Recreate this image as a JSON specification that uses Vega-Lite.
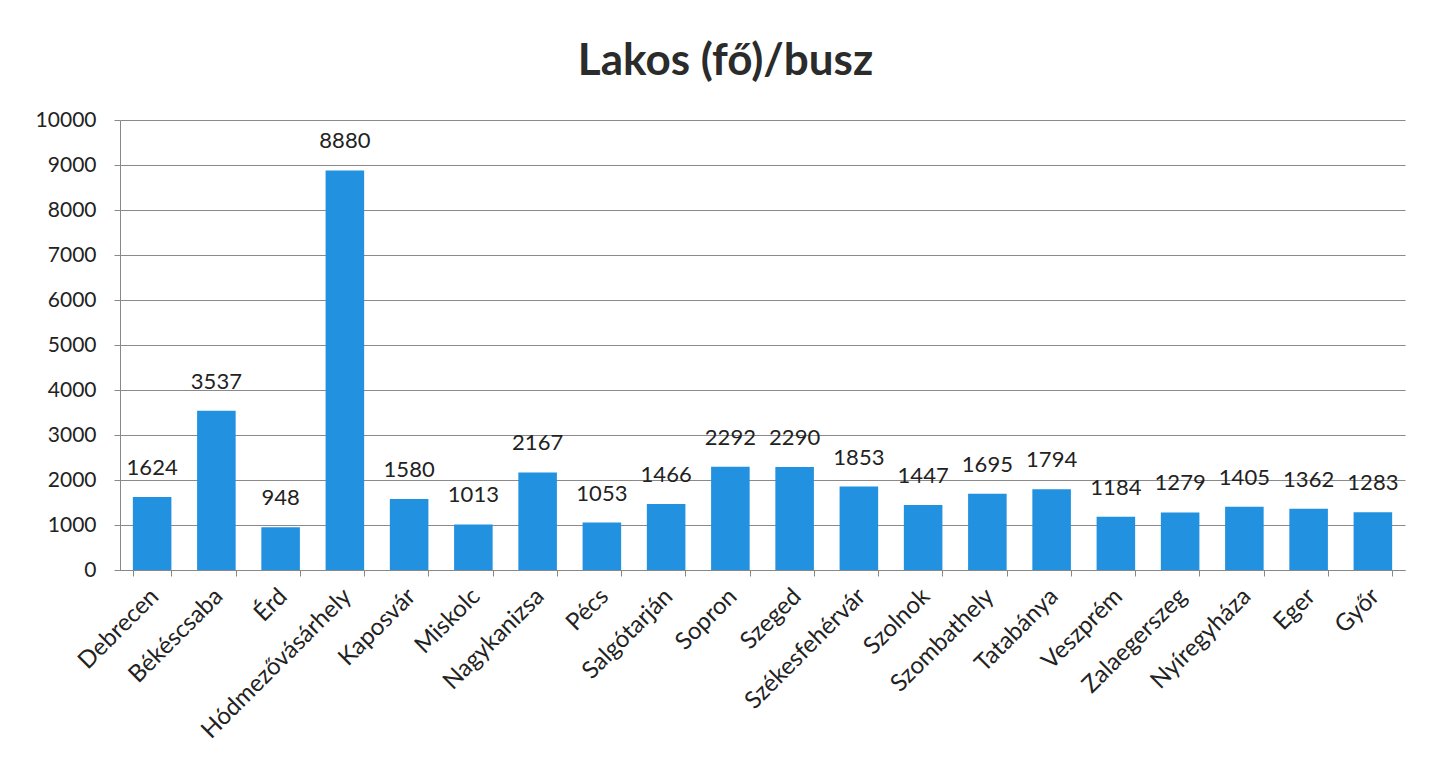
{
  "$schema": "https://vega.github.io/schema/vega-lite/v6.json",
  "autosize": "none",
  "width": 1285,
  "height": 450,
  "padding": {"left": 120, "top": 120, "right": 31, "bottom": 201},
  "background": "white",
  "title": {
    "text": "Lakos (fő)/busz",
    "font": "Lato",
    "fontSize": 44,
    "fontWeight": "bold",
    "color": "#2b2b2b",
    "anchor": "middle",
    "dx": -37,
    "offset": 25
  },
  "data": {
    "values": [
      {"city": "Debrecen", "value": 1624},
      {"city": "Békéscsaba", "value": 3537},
      {"city": "Érd", "value": 948},
      {"city": "Hódmezővásárhely", "value": 8880},
      {"city": "Kaposvár", "value": 1580},
      {"city": "Miskolc", "value": 1013},
      {"city": "Nagykanizsa", "value": 2167},
      {"city": "Pécs", "value": 1053},
      {"city": "Salgótarján", "value": 1466},
      {"city": "Sopron", "value": 2292},
      {"city": "Szeged", "value": 2290},
      {"city": "Székesfehérvár", "value": 1853},
      {"city": "Szolnok", "value": 1447},
      {"city": "Szombathely", "value": 1695},
      {"city": "Tatabánya", "value": 1794},
      {"city": "Veszprém", "value": 1184},
      {"city": "Zalaegerszeg", "value": 1279},
      {"city": "Nyíregyháza", "value": 1405},
      {"city": "Eger", "value": 1362},
      {"city": "Győr", "value": 1283}
    ]
  },
  "encoding": {
    "x": {
      "field": "city",
      "type": "nominal",
      "sort": null,
      "scale": {"paddingInner": 0.4, "paddingOuter": 0.2},
      "axis": {
        "title": null,
        "labelAngle": -45,
        "labelFont": "Lato",
        "labelFontSize": 24,
        "labelColor": "#222",
        "labelPadding": 8,
        "labelOffset": -6,
        "labelLimit": 500,
        "labelOverlap": false,
        "tickBand": "extent",
        "tickSize": 6,
        "tickColor": "#888",
        "domainColor": "#888",
        "grid": false
      }
    },
    "y": {
      "field": "value",
      "type": "quantitative",
      "scale": {"domain": [0, 10000], "nice": false},
      "axis": {
        "title": null,
        "values": [0, 1000, 2000, 3000, 4000, 5000, 6000, 7000, 8000, 9000, 10000],
        "format": "d",
        "labelFont": "Lato",
        "labelFontSize": 21,
        "labelColor": "#222",
        "labelPadding": 18,
        "tickSize": 6,
        "tickColor": "#888",
        "domainColor": "#888",
        "gridColor": "#8a8a8a",
        "gridWidth": 1
      }
    }
  },
  "layer": [
    {"mark": {"type": "bar", "color": "#2191e0"}},
    {
      "mark": {"type": "text", "baseline": "bottom", "dy": -17, "font": "Lato", "fontSize": 22, "color": "#222"},
      "encoding": {"text": {"field": "value", "type": "quantitative", "format": "d"}}
    }
  ],
  "config": {"view": {"stroke": null}}
}
